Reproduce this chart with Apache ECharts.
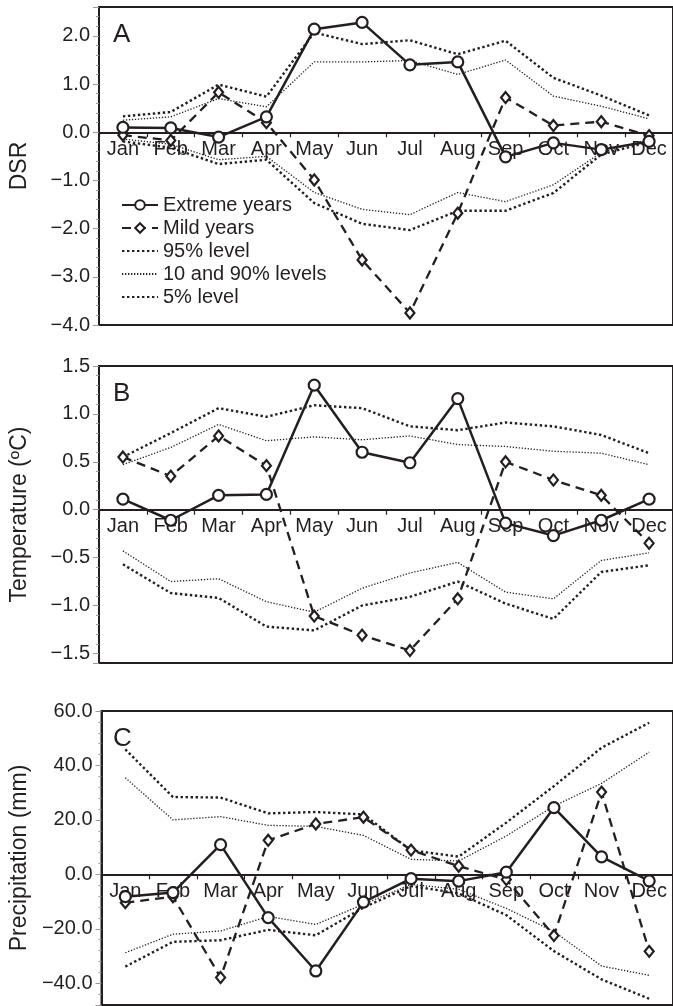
<!DOCTYPE html>
<html>
<head>
<meta charset="utf-8">
<script src="https://cdn.jsdelivr.net/npm/echarts@6/dist/echarts.min.js"></script>
<style>
  html, body { margin: 0; padding: 0; background: #fff; }
  #chart { width: 673px; height: 1006px; }
</style>
</head>
<body>
<div id="chart"></div>
<script>
// months on the x axis
const months = ['Jan', 'Feb', 'Mar', 'Apr', 'May', 'Jun', 'Jul', 'Aug', 'Sep', 'Oct', 'Nov', 'Dec'];

// A: DSR
const dsrExtreme = [0.10, 0.09, -0.10, 0.32, 2.14, 2.28, 1.40, 1.46, -0.51, -0.22, -0.36, -0.19];
const dsrMild = [-0.06, -0.17, 0.83, 0.20, -0.99, -2.65, -3.75, -1.68, 0.72, 0.14, 0.22, -0.07];
const dsrP95 = [0.33, 0.42, 0.99, 0.74, 2.07, 1.83, 1.91, 1.62, 1.90, 1.13, 0.76, 0.35];
const dsrP90 = [0.25, 0.32, 0.70, 0.53, 1.46, 1.46, 1.49, 1.20, 1.50, 0.75, 0.54, 0.28];
const dsrP10 = [-0.14, -0.25, -0.57, -0.50, -1.25, -1.60, -1.71, -1.25, -1.44, -1.09, -0.42, -0.15];
const dsrP5 = [-0.19, -0.32, -0.66, -0.57, -1.47, -1.90, -2.03, -1.63, -1.63, -1.26, -0.46, -0.20];

// B: temperature (ºC)
const tempExtreme = [0.11, -0.11, 0.15, 0.16, 1.30, 0.60, 0.49, 1.16, -0.14, -0.27, -0.11, 0.11];
const tempMild = [0.55, 0.35, 0.77, 0.46, -1.11, -1.31, -1.47, -0.93, 0.50, 0.31, 0.15, -0.35];
const tempP95 = [0.55, 0.80, 1.06, 0.97, 1.09, 1.06, 0.87, 0.83, 0.91, 0.87, 0.78, 0.59];
const tempP90 = [0.47, 0.65, 0.89, 0.72, 0.76, 0.73, 0.77, 0.68, 0.66, 0.61, 0.59, 0.47];
const tempP10 = [-0.43, -0.75, -0.72, -0.96, -1.07, -0.82, -0.66, -0.55, -0.86, -0.93, -0.53, -0.45];
const tempP5 = [-0.57, -0.87, -0.92, -1.22, -1.26, -1.00, -0.91, -0.75, -0.98, -1.14, -0.65, -0.58];

// C: precipitation (mm)
const precExtreme = [-8.2, -6.7, 10.9, -15.9, -35.5, -10.2, -1.6, -2.5, 0.8, 24.5, 6.4, -2.4];
const precMild = [-10.4, -8.2, -37.9, 12.5, 18.5, 21.0, 8.9, 3.0, -1.9, -22.5, 30.2, -28.3];
const precP95 = [45.9, 28.4, 28.2, 22.4, 22.9, 22.0, 8.8, 6.5, 19.0, 32.4, 46.5, 55.7];
const precP90 = [35.5, 20.0, 21.2, 18.0, 17.6, 14.3, 5.5, 4.9, 14.1, 25.1, 33.4, 44.9];
const precP10 = [-28.8, -22.0, -20.8, -15.5, -18.4, -11.0, -3.7, -5.5, -12.5, -21.0, -33.7, -37.1];
const precP5 = [-33.9, -24.8, -24.2, -20.4, -22.4, -12.2, -4.3, -7.0, -15.0, -28.2, -38.6, -45.7];

const chart = echarts.init(document.getElementById('chart'));
const ink = '#231f20';
const font = 'Liberation Sans, Arial, sans-serif';

const panels = [
  { letter: 'A', title: 'DSR', top: 7, height: 318, min: -4, max: 2.6, split: 6, step: 1,
    extreme: dsrExtreme, mild: dsrMild, p95: dsrP95, p90: dsrP90, p10: dsrP10, p5: dsrP5 },
  { letter: 'B', title: 'Temperature (ºC)', top: 366, height: 297, min: -1.6, max: 1.5, split: 6, step: 0.5,
    extreme: tempExtreme, mild: tempMild, p95: tempP95, p90: tempP90, p10: tempP10, p5: tempP5 },
  { letter: 'C', title: 'Precipitation (mm)', top: 711, height: 294, min: -48, max: 60, split: 5, step: 20,
    extreme: precExtreme, mild: precMild, p95: precP95, p90: precP90, p10: precP10, p5: precP5 }
];

const thickDots = { color: ink, width: 2.4, type: [2.4, 2.6] };
const thinDots = { color: ink, width: 1.3, type: [1.3, 1.7] };

function levelLine(name, data, i, style) {
  return {
    name: name, type: 'line', xAxisIndex: i, yAxisIndex: i, data: data,
    symbol: 'none', lineStyle: style, silent: true, z: 2,
    itemStyle: { color: 'rgba(0,0,0,0)', borderWidth: 0 }
  };
}

const grid = [], xAxis = [], yAxis = [], series = [], graphic = [];

panels.forEach((p, i) => {
  grid.push({ left: 99, width: 576, top: p.top, height: p.height,
    show: true, borderColor: ink, borderWidth: 2, backgroundColor: 'transparent' });

  // x axis sits on the zero line, lifted from the bottom of the grid
  const lift = p.height * (0 - p.min) / (p.max - p.min);
  xAxis.push({
    type: 'category', gridIndex: i, data: months, boundaryGap: true,
    position: 'bottom', offset: -lift,
    axisLine: { onZero: false, lineStyle: { color: ink, width: 2.2 } },
    axisTick: { show: true, length: 5, lineStyle: { color: ink, width: 1.2 } },
    axisLabel: { interval: 0, margin: 7, color: ink, fontSize: 20, fontFamily: font }
  });

  yAxis.push({
    type: 'value', gridIndex: i, min: p.min, max: p.max, splitNumber: p.split,
    name: p.title, nameLocation: 'middle', nameGap: 68,
    nameTextStyle: { color: ink, fontSize: 23, fontFamily: font },
    splitLine: { show: false },
    axisLine: { show: true, lineStyle: { color: ink, width: 2 } },
    axisTick: { show: true, length: 6, lineStyle: { color: '#999', width: 1 } },
    minorTick: { show: true, splitNumber: 5, length: 3, lineStyle: { color: '#999', width: 1 } },
    axisLabel: {
      margin: 9, color: ink, fontSize: 20, fontFamily: font,
      formatter: v => {
        const k = v / p.step;
        if (Math.abs(k - Math.round(k)) > 1e-6) return '';
        const r = Math.round(k) * p.step;
        return (r < 0 ? '\u2212' : '') + Math.abs(r).toFixed(1);
      }
    }
  });

  series.push(levelLine('95% level', p.p95, i, thickDots));
  series.push(levelLine('10 and 90% levels', p.p90, i, thinDots));
  series.push(levelLine('10 and 90% levels', p.p10, i, thinDots));
  series.push(levelLine('5% level', p.p5, i, thickDots));

  series.push({
    name: 'Mild years', type: 'line', xAxisIndex: i, yAxisIndex: i, data: p.mild,
    symbol: 'diamond', symbolSize: [9, 11], showAllSymbol: true, z: 3,
    lineStyle: { color: ink, width: 2.3, type: [9, 6] },
    itemStyle: { color: '#fff', borderColor: ink, borderWidth: 2.2 }
  });
  series.push({
    name: 'Extreme years', type: 'line', xAxisIndex: i, yAxisIndex: i, data: p.extreme,
    symbol: 'circle', symbolSize: 11, showAllSymbol: true, z: 4,
    lineStyle: { color: ink, width: 2.5 },
    itemStyle: { color: '#fff', borderColor: ink, borderWidth: 2.2 }
  });

  graphic.push({
    type: 'text', left: 113, top: p.top + 15, z: 10,
    style: { text: p.letter, fill: ink, font: '26px ' + font }
  });
});

chart.setOption({
  animation: false,
  backgroundColor: '#fff',
  grid: grid,
  xAxis: xAxis,
  yAxis: yAxis,
  series: series,
  graphic: graphic,
  legend: {
    orient: 'vertical', left: 116, top: 190,
    itemWidth: 36, itemHeight: 12, itemGap: 3,
    selectedMode: false,
    textStyle: { color: ink, fontSize: 20, fontFamily: font },
    data: ['Extreme years', 'Mild years', '95% level', '10 and 90% levels', '5% level']
  }
});
</script>
</body>
</html>
